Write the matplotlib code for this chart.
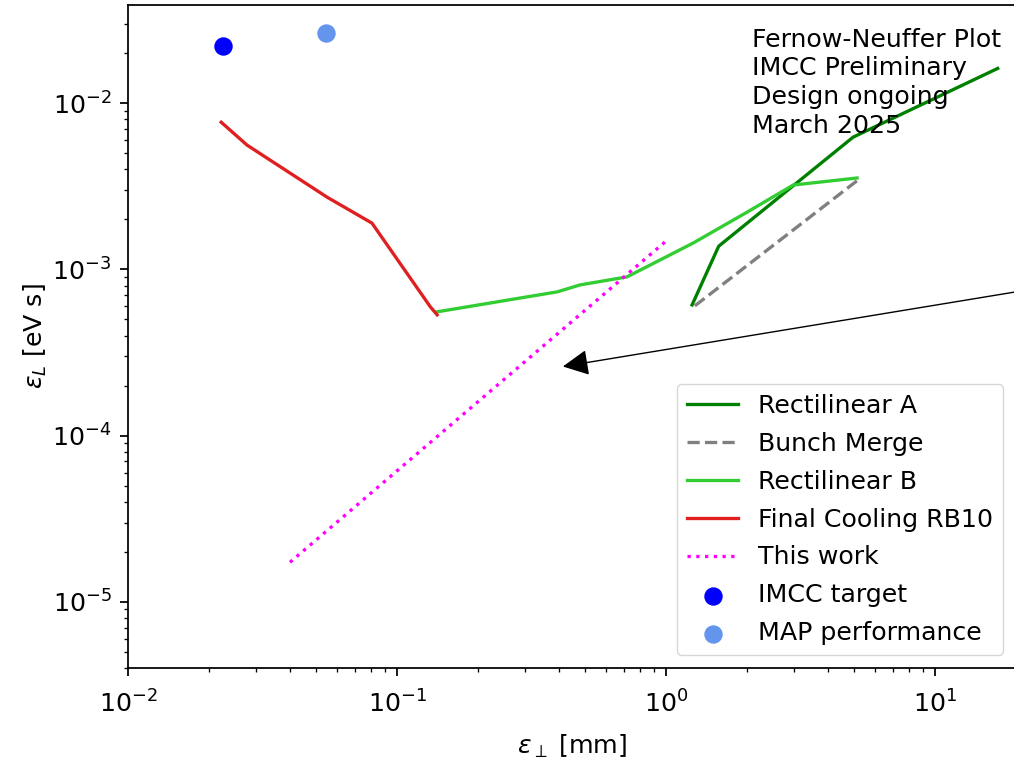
import numpy as np
import matplotlib
matplotlib.use("Agg")
import matplotlib.pyplot as plt

# reference looks like default style rendered at a high dpi
k = 1.584  # line scale
f = 1.82   # font / padding scale
plt.rcParams.update({
    "font.size": 10 * f,
    "axes.linewidth": 0.8 * k,
    "lines.linewidth": 1.5 * k,
    "xtick.major.size": 3.5 * k,
    "ytick.major.size": 3.5 * k,
    "xtick.minor.size": 2 * k,
    "ytick.minor.size": 2 * k,
    "xtick.major.width": 0.8 * k,
    "ytick.major.width": 0.8 * k,
    "xtick.minor.width": 0.6 * k,
    "ytick.minor.width": 0.6 * k,
    "xtick.major.pad": 10.5,
    "ytick.major.pad": 3.5 * f,
})

# Final Cooling RB10
fc_x = [0.0222, 0.0277, 0.055, 0.0807, 0.133, 0.141]
fc_y = [0.00769, 0.0056, 0.00272, 0.0019, 0.000596, 0.000533]

# Rectilinear B
rb_x = [0.141, 0.394, 0.479, 0.716, 1.26, 2.0, 2.97, 5.13]
rb_y = [0.000556, 0.000733, 0.000807, 0.000902, 0.00144, 0.00221, 0.00322, 0.00355]

# Rectilinear A
ra_x = [1.25, 1.57, 4.96, 17.1]
ra_y = [0.000612, 0.00138, 0.00625, 0.0162]

# Bunch Merge
bm_x = [1.28, 5.17]
bm_y = [0.000604, 0.00345]

# This work
tw_x = [0.04, 0.99]
tw_y = [1.73e-5, 0.00146]

# targets
imcc_x, imcc_y = [0.0225], [0.022]
map_x, map_y = [0.0545], [0.0263]

fig = plt.figure(figsize=(10.14, 7.61), dpi=100)
ax = fig.add_axes([128 / 1014, 93 / 761, 888 / 1014, 663 / 761])

ax.plot(ra_x, ra_y, color="green", label="Rectilinear A")
ax.plot(bm_x, bm_y, color="gray", linestyle="--", label="Bunch Merge")
ax.plot(rb_x, rb_y, color="limegreen", label="Rectilinear B")
ax.plot(fc_x, fc_y, color="#e02020", label="Final Cooling RB10")
ax.plot(tw_x, tw_y, color="magenta", linestyle=":", label="This work")
ax.scatter(imcc_x, imcc_y, s=150, color="blue", label="IMCC target")
ax.scatter(map_x, map_y, s=150, color="cornflowerblue", label="MAP performance")

ax.set_xscale("log")
ax.set_yscale("log")
ax.set_xlim(0.01, 20)
ax.set_ylim(4e-6, 0.039)
ax.set_xlabel(r"$\epsilon_\perp$ [mm]", labelpad=11)
ax.set_ylabel(r"$\epsilon_L$ [eV s]", labelpad=2.5)

ax.text(2.08, 0.0285, "Fernow-Neuffer Plot\nIMCC Preliminary\nDesign ongoing\nMarch 2025",
        va="top", ha="left", linespacing=1.25)

ax.annotate("", xy=(0.404, 0.000259), xytext=(24.5, 0.000774),
            arrowprops=dict(arrowstyle="-|>,head_length=0.4,head_width=0.2",
                            color="black", lw=1.0, mutation_scale=40),
            annotation_clip=False)

ax.legend(loc="lower right", labelspacing=0.55)

fig.savefig("out.png", dpi=100)
